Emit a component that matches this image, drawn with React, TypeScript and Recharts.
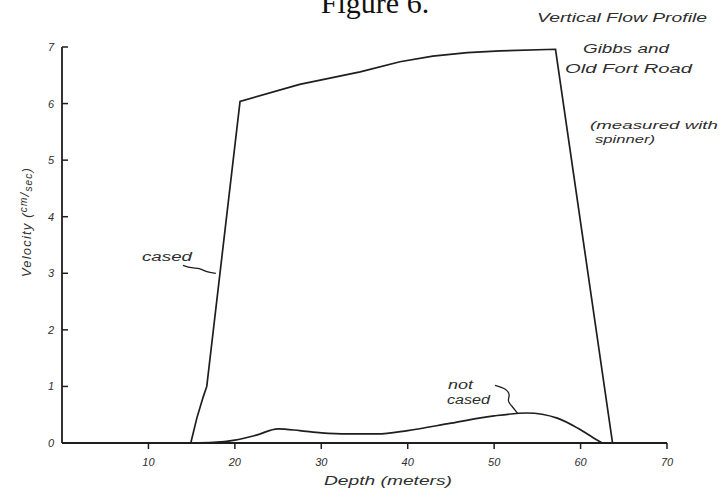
import React from 'react';
import { LineChart, Line, XAxis, YAxis } from 'recharts';

// ---- data ----
const depthTicks = [10, 20, 30, 40, 50, 60, 70];
const velocityTicks = [0, 1, 2, 3, 4, 5, 6, 7];

const casedDepth = [14.9, 15.6, 16.35, 16.75, 20.6, 27.5, 34.5, 39.1, 42.9, 46.9, 50.7, 57.1, 63.7];
const casedVelocity = [0, 0.44, 0.82, 1.0, 6.04, 6.34, 6.56, 6.74, 6.84, 6.9, 6.93, 6.96, 0];

const notCasedDepth = [15, 17.5, 20, 22.5, 25, 27.5, 30, 33, 36.5, 40, 45, 50, 53.8, 57.3, 59.7, 61.5, 62.5];
const notCasedVelocity = [0, 0.01, 0.05, 0.14, 0.25, 0.22, 0.18, 0.16, 0.16, 0.22, 0.35, 0.48, 0.53, 0.44, 0.26, 0.09, 0];

// leader squiggles for annotations (data coordinates)
const casedLeaderDepth = [14.0, 15.0, 16.0, 16.7, 17.8];
const casedLeaderVelocity = [3.14, 3.09, 3.09, 3.02, 3.0];
const notCasedLeaderDepth = [50.1, 51.3, 51.9, 51.5, 52.0, 52.7];
const notCasedLeaderVelocity = [1.02, 0.97, 0.85, 0.75, 0.66, 0.53];

const zip = (xs: number[], ys: number[]) => xs.map((d, i) => ({ d, v: ys[i] }));

const casedData = zip(casedDepth, casedVelocity);
const notCasedData = zip(notCasedDepth, notCasedVelocity);
const casedLeader = zip(casedLeaderDepth, casedLeaderVelocity);
const notCasedLeader = zip(notCasedLeaderDepth, notCasedLeaderVelocity);

const INK = '#1e1e1e';
const TEXT = '#2e2e2e';
const FONT = '"Liberation Sans", Arial, sans-serif';

const YTick = (props: any) => {
  const { x, y, payload } = props;
  return (
    <g>
      <line x1={x} x2={x + 6} y1={y} y2={y} stroke={INK} strokeWidth={1.5} />
      <text x={x - 11} y={y + 4} textAnchor="middle" fontSize={11} fontStyle="italic" fontFamily={FONT} fill={TEXT}>
        {payload.value}
      </text>
    </g>
  );
};

const XTick = (props: any) => {
  const { x, y, payload } = props;
  return (
    <text x={x} y={y + 17} textAnchor="middle" fontSize={11} fontStyle="italic" fontFamily={FONT} fill={TEXT}>
      {payload.value}
    </text>
  );
};

export default function App() {
  return (
    <div style={{ position: 'fixed', left: 0, top: 0, width: 722, height: 497, background: '#fff' }}>
      <LineChart width={722} height={497} margin={{ top: 47, right: 55, bottom: 0, left: 0 }}>
        <XAxis
          type="number"
          dataKey="d"
          domain={[0, 70]}
          ticks={depthTicks}
          height={54}
          tickSize={6}
          tickMargin={0}
          tick={<XTick />}
          tickLine={{ stroke: INK, strokeWidth: 1.5 }}
          axisLine={{ stroke: INK, strokeWidth: 1.8 }}
          allowDataOverflow
        />
        <YAxis
          type="number"
          dataKey="v"
          domain={[0, 7]}
          ticks={velocityTicks}
          width={62}
          tickSize={0}
          tickMargin={0}
          tick={<YTick />}
          tickLine={false}
          axisLine={{ stroke: INK, strokeWidth: 1.8 }}
          allowDataOverflow
        />
        <Line data={casedData} dataKey="v" type="linear" stroke={INK} strokeWidth={1.7} dot={false} isAnimationActive={false} />
        <Line data={notCasedData} dataKey="v" type="monotone" stroke={INK} strokeWidth={1.7} dot={false} isAnimationActive={false} />
        <Line data={casedLeader} dataKey="v" type="basis" stroke={INK} strokeWidth={1.3} dot={false} isAnimationActive={false} />
        <Line data={notCasedLeader} dataKey="v" type="basis" stroke={INK} strokeWidth={1.3} dot={false} isAnimationActive={false} />
      </LineChart>
      <svg width={722} height={497} style={{ position: 'absolute', left: 0, top: 0, pointerEvents: 'none' }}>
        <text x={375} y={13} textAnchor="middle" fontSize={30} fontFamily='"Liberation Serif", "Times New Roman", serif' fill="#111">
          Figure 6.
        </text>
        <g fontFamily={FONT} fontStyle="italic" fill={TEXT}>
          <text x={537} y={22} fontSize={12} textLength={170} lengthAdjust="spacingAndGlyphs">Vertical Flow Profile</text>
          <text x={583} y={53} fontSize={12} textLength={86} lengthAdjust="spacingAndGlyphs">Gibbs and</text>
          <text x={565} y={73} fontSize={12} textLength={127} lengthAdjust="spacingAndGlyphs">Old Fort Road</text>
          <text x={590} y={129} fontSize={11} textLength={128} lengthAdjust="spacingAndGlyphs">(measured with</text>
          <text x={595} y={143} fontSize={11} textLength={60} lengthAdjust="spacingAndGlyphs">spinner)</text>
          <text x={142} y={261} fontSize={12} textLength={50} lengthAdjust="spacingAndGlyphs">cased</text>
          <text x={448} y={389} fontSize={12} textLength={25} lengthAdjust="spacingAndGlyphs">not</text>
          <text x={447} y={404} fontSize={12} textLength={43} lengthAdjust="spacingAndGlyphs">cased</text>
          <text x={388} y={485} fontSize={12} textAnchor="middle" textLength={128} lengthAdjust="spacingAndGlyphs">Depth  (meters)</text>
          <g transform="translate(31,222) rotate(-90)">
            <text x={0} y={0} fontSize={13} textAnchor="middle" letterSpacing={1.2}>
              Velocity  (<tspan fontSize={10} dy={-4}>cm</tspan>
              <tspan dy={2}>/</tspan>
              <tspan fontSize={10} dy={3}>sec</tspan>
              <tspan dy={-1}>)</tspan>
            </text>
          </g>
        </g>
      </svg>
    </div>
  );
}
